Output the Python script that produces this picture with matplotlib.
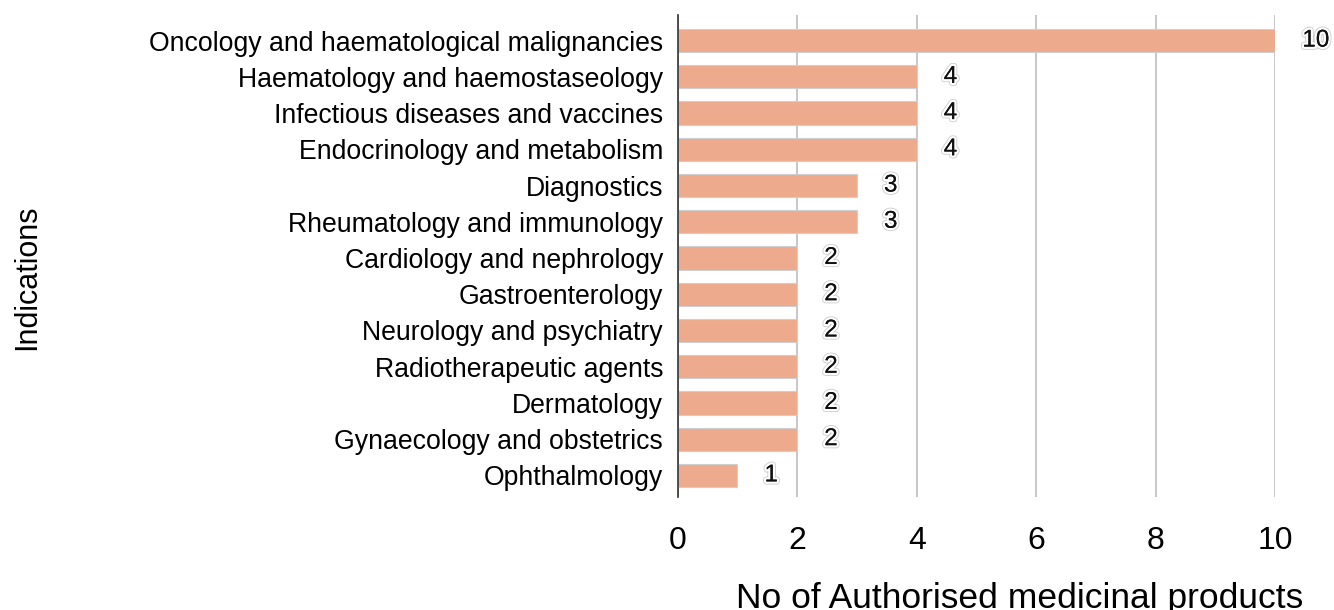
import matplotlib.pyplot as plt
import matplotlib.patheffects as pe

plt.rcParams['font.family'] = ['Liberation Sans', 'DejaVu Sans']

indications = ["Oncology and haematological malignancies",
               "Haematology and haemostaseology",
               "Infectious diseases and vaccines",
               "Endocrinology and metabolism",
               "Diagnostics",
               "Rheumatology and immunology",
               "Cardiology and nephrology",
               "Gastroenterology",
               "Neurology and psychiatry",
               "Radiotherapeutic agents",
               "Dermatology",
               "Gynaecology and obstetrics",
               "Ophthalmology"]
counts = [10, 4, 4, 4, 3, 3, 2, 2, 2, 2, 2, 2, 1]
xticks = [0, 2, 4, 6, 8, 10]

fig = plt.figure(figsize=(13.34, 6.1), dpi=100)
ax = fig.add_axes([0.508, 0.185, 0.448, 0.79])

ypos = list(range(len(counts)))
ax.barh(ypos, counts, height=0.64, color='#eeaa8d', edgecolor='#cfcfcf', linewidth=0.8, zorder=3)
ax.set_ylim(12.6, -0.7)
ax.set_xlim(0, 10)

for y, v in zip(ypos, counts):
    ax.annotate(str(v), (v, y), xytext=(27, 0), textcoords='offset pixels',
                ha='left', va='center', fontsize=17.5, color='#111111', zorder=5,
                path_effects=[pe.withStroke(linewidth=4.5, foreground='#cccccc'),
                              pe.withStroke(linewidth=3.3, foreground='white'),
                              pe.Normal()],
                annotation_clip=False)

ax.set_yticks(ypos)
ax.set_yticklabels(indications, fontsize=19.2)
ax.set_xticks(xticks)
ax.set_xticklabels([str(t) for t in xticks], fontsize=23)
ax.tick_params(axis='both', length=0)
ax.tick_params(axis='y', pad=10.5)
ax.tick_params(axis='x', pad=21)

ax.grid(axis='x', color='#bdbdbd', linewidth=1.2, zorder=0)
ax.set_axisbelow(True)
for s in ['top', 'right', 'bottom']:
    ax.spines[s].set_visible(False)
ax.spines['left'].set_color('#333333')
ax.spines['left'].set_linewidth(1.2)
ax.spines['left'].set_zorder(4)

fig.text(0.764, 0.004, "No of Authorised medicinal products", fontsize=25.5, ha='center', va='baseline')
fig.text(0.02, 0.546, "Indications", rotation=90, fontsize=22, ha='center', va='center')

fig.savefig("out.png", dpi=100)
